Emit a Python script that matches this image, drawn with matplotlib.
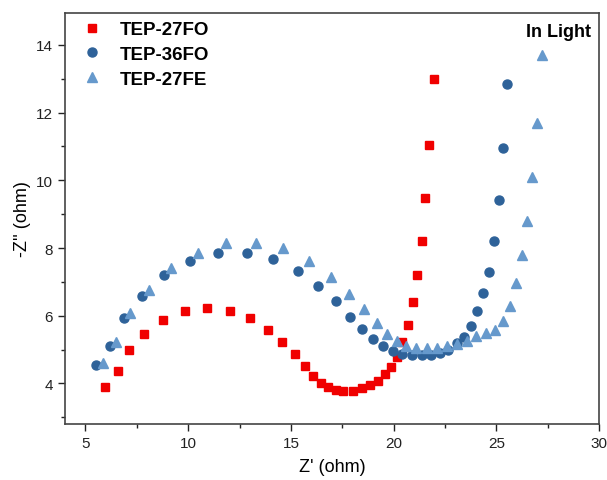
import matplotlib
matplotlib.use("Agg")
import matplotlib.pyplot as plt
from matplotlib.ticker import MultipleLocator

plt.rcParams['font.family'] = ['Liberation Sans', 'DejaVu Sans']

# TEP-27FO (red squares)
fo27_x = [5.93, 6.57, 7.11, 7.86, 8.76, 9.83, 10.92, 12.01, 13.0, 13.9, 14.57, 15.2,
          15.69, 16.09, 16.48, 16.82, 17.2, 17.55, 18.04, 18.45, 18.85, 19.26, 19.59,
          19.86, 20.16, 20.40, 20.68, 20.92, 21.16, 21.36, 21.54, 21.73, 21.94]
fo27_y = [3.88, 4.36, 4.98, 5.45, 5.87, 6.14, 6.22, 6.15, 5.92, 5.59, 5.22, 4.86,
          4.5, 4.22, 4.01, 3.89, 3.81, 3.77, 3.79, 3.85, 3.94, 4.07, 4.27,
          4.48, 4.79, 5.21, 5.72, 6.39, 7.2, 8.21, 9.47, 11.05, 12.98]

# TEP-36FO (dark blue circles)
fo36_x = [5.52, 6.19, 6.87, 7.75, 8.82, 10.09, 11.45, 12.85, 14.12, 15.33, 16.33, 17.19,
          17.88, 18.46, 19.0, 19.47, 19.96, 20.43, 20.9, 21.37, 21.82, 22.26, 22.66,
          23.08, 23.44, 23.78, 24.04, 24.35, 24.66, 24.87, 25.11, 25.33, 25.52]
fo36_y = [4.54, 5.11, 5.93, 6.57, 7.2, 7.61, 7.86, 7.86, 7.67, 7.32, 6.88, 6.42,
          5.97, 5.6, 5.3, 5.11, 4.97, 4.86, 4.83, 4.83, 4.85, 4.9, 4.99,
          5.19, 5.38, 5.7, 6.14, 6.66, 7.3, 8.21, 9.42, 10.95, 12.84]

# TEP-27FE (light blue triangles)
fe27_x = [5.84, 6.5, 7.18, 8.07, 9.18, 10.48, 11.86, 13.28, 14.62, 15.88, 16.94, 17.83,
          18.54, 19.18, 19.69, 20.17, 20.62, 21.11, 21.61, 22.1, 22.6, 23.08, 23.55,
          24.01, 24.48, 24.91, 25.3, 25.66, 25.97, 26.23, 26.5, 26.74, 26.98, 27.23]
fe27_y = [4.59, 5.22, 6.07, 6.75, 7.4, 7.85, 8.14, 8.15, 7.99, 7.61, 7.13, 6.65,
          6.19, 5.77, 5.46, 5.24, 5.1, 5.05, 5.04, 5.05, 5.09, 5.17, 5.26,
          5.4, 5.48, 5.58, 5.85, 6.3, 6.96, 7.8, 8.81, 10.11, 11.69, 13.7]

fig = plt.figure(figsize=(6.07, 4.81), dpi=100)
ax = fig.add_axes([0.107, 0.1164, 0.88, 0.855])

ax.plot(fo27_x, fo27_y, 's', color='#f00000', markersize=6, label='TEP-27FO')
ax.plot(fo36_x, fo36_y, 'o', color='#2e6299', markersize=6.5, label='TEP-36FO')
ax.plot(fe27_x, fe27_y, '^', color='#6699cc', markersize=7.5, label='TEP-27FE')

ax.set_xlim(4, 30)
ax.set_ylim(2.8, 14.95)
ax.xaxis.set_major_locator(MultipleLocator(5))
ax.xaxis.set_minor_locator(MultipleLocator(2.5))
ax.yaxis.set_major_locator(MultipleLocator(2))
ax.yaxis.set_minor_locator(MultipleLocator(1))
ax.tick_params(which='major', direction='out', length=5, width=1, labelsize=11, colors='#222222')
ax.tick_params(which='minor', direction='out', length=3, width=1, colors='#222222')
for s in ax.spines.values():
    s.set_color('#444444')
    s.set_linewidth(1.2)

ax.set_xlabel("Z' (ohm)", fontsize=13, labelpad=6)
ax.set_ylabel("-Z'' (ohm)", fontsize=13, labelpad=4)

leg = ax.legend(loc='upper left', frameon=False, prop={'weight': 'bold', 'size': 13.5},
                handletextpad=1.0, borderaxespad=0.1, labelspacing=0.4,
                handlelength=1.0, borderpad=0.35, bbox_to_anchor=(0.017, 1.0))
ax.text(0.985, 0.975, 'In Light', transform=ax.transAxes, ha='right', va='top',
        fontsize=13, fontweight='bold')

fig.savefig('out.png', dpi=100)
